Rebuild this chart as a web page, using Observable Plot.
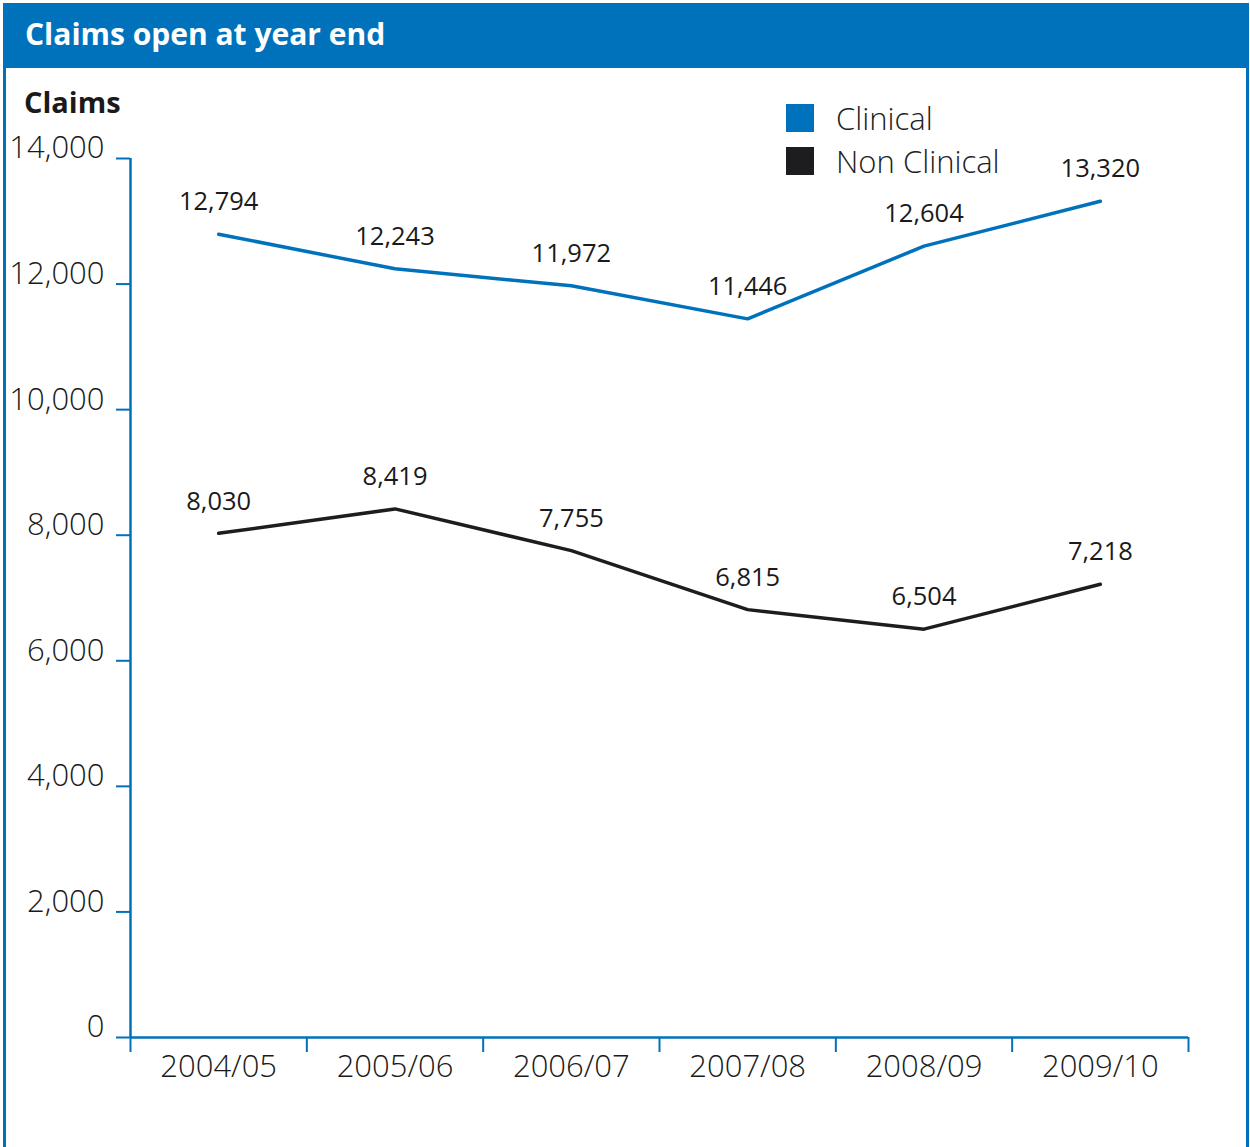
<!DOCTYPE html>
<html><head><meta charset="utf-8">
<script src="https://cdn.jsdelivr.net/npm/d3@7"></script>
<script src="https://cdn.jsdelivr.net/npm/@observablehq/plot@0.6"></script>
<style>
html,body{margin:0;padding:0;background:#fff;font-family:"Open Sans",sans-serif;}
#page{position:relative;width:1250px;height:1147px;overflow:hidden;}
#frame{position:absolute;left:3px;top:3px;width:1240px;height:1160px;border:3px solid #0072bc;}
#header{position:absolute;left:3px;top:3px;width:1246px;height:65px;background:#0072bc;}
#title{position:absolute;left:22px;top:10px;color:#fff;font-weight:700;font-size:30px;line-height:42px;}
#ylab{position:absolute;left:24px;top:82px;color:#1a1a1a;font-weight:700;font-size:29px;line-height:40px;}
#chart{position:absolute;left:0;top:68px;}
#legend{position:absolute;left:786px;top:96px;}
.li{display:flex;align-items:center;height:43px;font-size:31px;color:#222;font-weight:300;}
.sw{width:28px;height:28px;margin-right:22px;}
</style></head>
<body><div id="page">
<div id="frame"></div>
<div id="header"><div id="title">Claims open at year end</div></div>
<div id="chart"></div>
<div id="ylab">Claims</div>
<div id="legend"></div>
</div>
<script>
const years = ["2004/05","2005/06","2006/07","2007/08","2008/09","2009/10"];
const clinical = [12794,12243,11972,11446,12604,13320];
const nonClinical = [8030,8419,7755,6815,6504,7218];
const seriesNames = ["Clinical","Non Clinical"];
const seriesColors = ["#0072bc","#1d1d1f"];
const yTicks = [0,2000,4000,6000,8000,10000,12000,14000];

const rows = years.flatMap((yr,i)=>[
  {i, year:yr, series:"Clinical", value:clinical[i]},
  {i, year:yr, series:"Non Clinical", value:nonClinical[i]}
]);
const bandEdges = years.map((_,i)=>i-0.5).concat([years.length-0.5]);
const centers = years.map((_,i)=>i);
const fmt = d3.format(",");
const blue = "#0072bc";

const chart = Plot.plot({
  width:1250, height:1076,
  marginLeft:130, marginRight:62, marginTop:90, marginBottom:107,
  style:{fontFamily:"'Open Sans', sans-serif", overflow:"visible", background:"transparent"},
  x:{domain:[-0.5, years.length-0.5]},
  y:{domain:[0,14000]},
  color:{domain:seriesNames, range:seriesColors},
  marks:[
    Plot.axisY({ticks:yTicks, tickSize:14, text:null, stroke:blue, strokeWidth:2, strokeOpacity:1, label:null}),
    Plot.axisY({ticks:yTicks, tickSize:0, tickPadding:26, tickFormat:fmt, fontSize:31, fontWeight:300, dy:-10, fill:"#1a1a1a", label:null}),
    Plot.axisX({ticks:bandEdges, tickSize:15, text:null, stroke:blue, strokeWidth:2, strokeOpacity:1, label:null}),
    Plot.axisX({ticks:centers, tickSize:0, tickPadding:17, tickFormat:i=>years[i], fontSize:31, fontWeight:300, fill:"#1a1a1a", label:null}),
    Plot.ruleX([-0.5], {y1:0, y2:14000, stroke:blue, strokeWidth:2.5}),
    Plot.ruleY([0], {x1:-0.5, x2:years.length-0.5, stroke:blue, strokeWidth:2.5}),
    Plot.line(rows, {x:"i", y:"value", z:"series", stroke:"series", strokeWidth:3.5}),
    Plot.text(rows, {x:"i", y:"value", text:d=>fmt(d.value), dy:-32, fontSize:25.5, fontWeight:500, fill:"#1a1a1a"})
  ]
});
document.getElementById("chart").appendChild(chart);

const leg = document.getElementById("legend");
seriesNames.forEach((s,k)=>{
  const d = document.createElement("div"); d.className="li";
  d.innerHTML = `<span class="sw" style="background:${seriesColors[k]}"></span><span>${s}</span>`;
  leg.appendChild(d);
});
</script>
</body></html>
